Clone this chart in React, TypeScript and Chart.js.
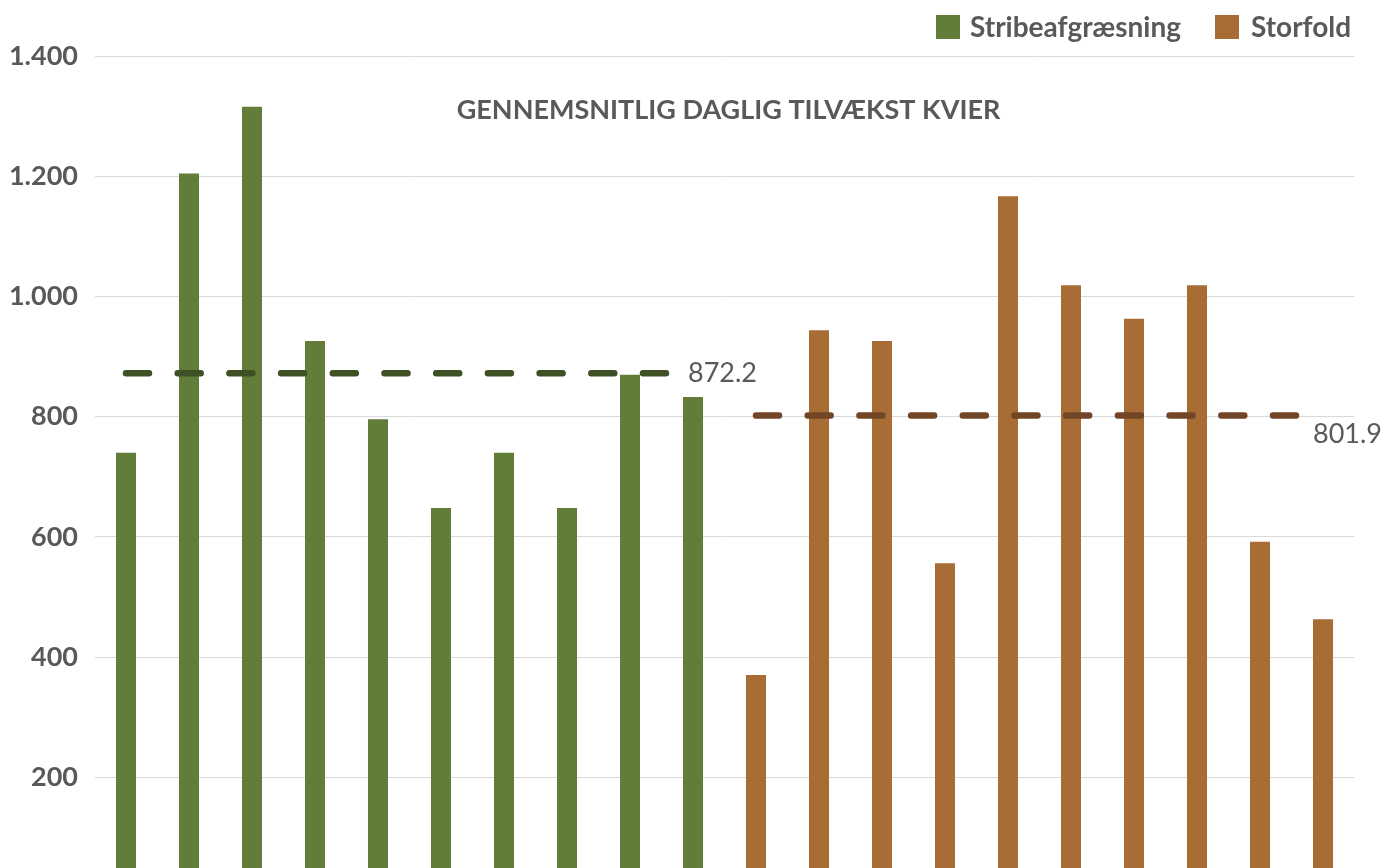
import React, { useEffect, useRef } from 'react';
import { Chart, registerables } from 'chart.js';

Chart.register(...registerables);

const CATEGORIES = ['1', '2', '3', '4', '5', '6', '7', '8', '9', '10', '11', '12', '13', '14', '15', '16', '17', '18', '19', '20'];
const SERIES_NAMES = ['Stribeafgræsning', 'Storfold'];
const STRIBE_VALUES = [740, 1205, 1316, 926, 796, 648, 740, 648, 870, 833];
const STORFOLD_VALUES = [370, 944, 926, 556, 1167, 1019, 963, 1019, 592, 463];
const AVERAGES = [872.2, 801.9];
const Y_TICK_VALUES = [0, 200, 400, 600, 800, 1000, 1200, 1400];
const Y_TICK_LABELS = ['0', '200', '400', '600', '800', '1.000', '1.200', '1.400'];
const TITLE = 'GENNEMSNITLIG DAGLIG TILVÆKST KVIER';

const FONT = 'Lato, "Source Sans Pro", "Noto Sans", sans-serif';
const TEXT_COLOR = '#595959';
const BAR_COLORS = ['#627c3a', '#a86d35'];
const LINE_COLORS = ['#3f5025', '#714525'];

const n1 = STRIBE_VALUES.length;
const stribeData = CATEGORIES.map((_, i) => (i < n1 ? STRIBE_VALUES[i] : null));
const storfoldData = CATEGORIES.map((_, i) => (i >= n1 ? STORFOLD_VALUES[i - n1] : null));
const stribeAvgData = CATEGORIES.map((_, i) => (i < n1 ? AVERAGES[0] : null));
const storfoldAvgData = CATEGORIES.map((_, i) => (i >= n1 ? AVERAGES[1] : null));

const titlePlugin = {
  id: 'customTitle',
  afterDraw(chart: any) {
    const ctx = chart.ctx;
    ctx.save();
    ctx.font = `bold 27px ${FONT}`;
    ctx.fillStyle = TEXT_COLOR;
    ctx.textAlign = 'center';
    ctx.textBaseline = 'middle';
    ctx.fillText(TITLE, 728.5, 110);
    ctx.restore();
  },
};

const legendPlugin = {
  id: 'customLegend',
  afterDraw(chart: any) {
    const ctx = chart.ctx;
    const boxX = [936, 1215];
    const textX = [970, 1251];
    ctx.save();
    ctx.font = `bold 28px ${FONT}`;
    ctx.textBaseline = 'middle';
    ctx.textAlign = 'left';
    const bars = chart.data.datasets.filter((d: any) => d.type === 'bar');
    bars.forEach((d: any, i: number) => {
      ctx.fillStyle = d.backgroundColor;
      ctx.fillRect(boxX[i], 15, 24, 24);
      ctx.fillStyle = TEXT_COLOR;
      ctx.fillText(d.label, textX[i], 28);
    });
    ctx.restore();
  },
};

const avgLabelPlugin = {
  id: 'avgLabels',
  afterDatasetsDraw(chart: any) {
    const ctx = chart.ctx;
    const offsets = [
      [-5, 0],
      [-10, 18.5],
    ];
    ctx.save();
    ctx.font = `27px ${FONT}`;
    ctx.fillStyle = TEXT_COLOR;
    ctx.textAlign = 'left';
    ctx.textBaseline = 'middle';
    let k = 0;
    chart.data.datasets.forEach((d: any, di: number) => {
      if (d.type !== 'line') return;
      const meta = chart.getDatasetMeta(di);
      let last = -1;
      d.data.forEach((v: any, i: number) => {
        if (v !== null) last = i;
      });
      if (last < 0) return;
      const pt = meta.data[last];
      const off = offsets[k] || [0, 0];
      ctx.fillText(AVERAGES[k].toFixed(1), pt.x + off[0], pt.y + off[1]);
      k++;
    });
    ctx.restore();
  },
};

export default function App() {
  const canvasRef = useRef<HTMLCanvasElement | null>(null);

  useEffect(() => {
    document.body.style.margin = '0';
    document.body.style.overflow = 'hidden';
    const canvas = canvasRef.current;
    if (!canvas) return;
    Chart.defaults.font.family = FONT;
    const chart = new Chart(canvas, {
      type: 'bar',
      data: {
        labels: CATEGORIES,
        datasets: [
          {
            type: 'bar',
            label: SERIES_NAMES[0],
            data: stribeData,
            backgroundColor: BAR_COLORS[0],
            borderWidth: 0,
            grouped: false,
            categoryPercentage: 1,
            barPercentage: 0.3175,
            order: 2,
          },
          {
            type: 'bar',
            label: SERIES_NAMES[1],
            data: storfoldData,
            backgroundColor: BAR_COLORS[1],
            borderWidth: 0,
            grouped: false,
            categoryPercentage: 1,
            barPercentage: 0.3175,
            order: 2,
          },
          {
            type: 'line',
            label: 'Gennemsnit ' + SERIES_NAMES[0],
            data: stribeAvgData,
            borderColor: LINE_COLORS[0],
            borderWidth: 6.5,
            borderDash: [23, 28.7],
            borderCapStyle: 'round',
            pointRadius: 0,
            fill: false,
            tension: 0,
            spanGaps: false,
            order: 1,
          },
          {
            type: 'line',
            label: 'Gennemsnit ' + SERIES_NAMES[1],
            data: storfoldAvgData,
            borderColor: LINE_COLORS[1],
            borderWidth: 6.5,
            borderDash: [23, 28.7],
            borderCapStyle: 'round',
            pointRadius: 0,
            fill: false,
            tension: 0,
            spanGaps: false,
            order: 1,
          },
        ] as any,
      },
      options: {
        responsive: false,
        animation: false,
        devicePixelRatio: 1,
        layout: { padding: { top: 56.3, right: 40.5, bottom: 29.5, left: 0 } },
        plugins: {
          legend: { display: false },
          title: { display: false },
          tooltip: { enabled: false },
        },
        scales: {
          x: {
            display: false,
            offset: true,
          },
          y: {
            min: 0,
            max: 1400,
            afterBuildTicks: (scale: any) => {
              scale.ticks = Y_TICK_VALUES.map((v) => ({ value: v }));
            },
            afterFit: (scale: any) => {
              scale.width = 94.5;
            },
            ticks: {
              callback: (v: any) => {
                const idx = Y_TICK_VALUES.indexOf(Number(v));
                return idx >= 0 ? Y_TICK_LABELS[idx] : String(v);
              },
              font: { size: 27, weight: 'bold', family: FONT },
              color: TEXT_COLOR,
              padding: 16.5,
            },
            grid: { color: '#d9d9d9', lineWidth: 1, drawTicks: false },
            border: { display: false },
          },
        },
      } as any,
      plugins: [titlePlugin, legendPlugin, avgLabelPlugin],
    });
    return () => chart.destroy();
  }, []);

  return (
    <div
      style={{
        position: 'fixed',
        left: 0,
        top: 0,
        width: 1395,
        height: 868,
        overflow: 'hidden',
        background: '#ffffff',
      }}
    >
      <canvas ref={canvasRef} width={1395} height={930} style={{ display: 'block', width: 1395, height: 930 }} />
    </div>
  );
}
